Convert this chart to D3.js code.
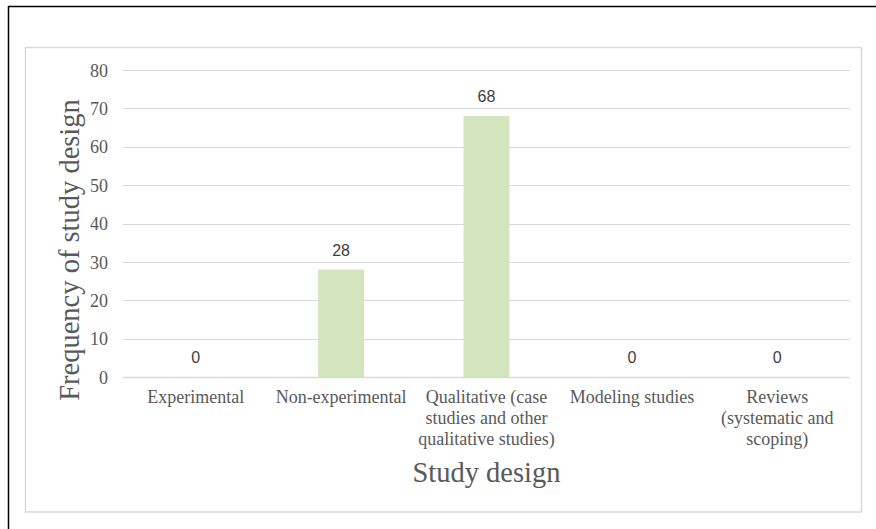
<!DOCTYPE html>
<html>
<head>
<meta charset="utf-8">
<script src="https://cdn.jsdelivr.net/npm/d3@7"></script>
<style>
  html, body { margin: 0; padding: 0; background: #fff; }
  svg { display: block; }
</style>
</head>
<body>
<svg id="chart" width="876" height="529"></svg>
<script>
const categories = [
  ["Experimental"],
  ["Non-experimental"],
  ["Qualitative (case", "studies and other", "qualitative studies)"],
  ["Modeling studies"],
  ["Reviews", "(systematic and", "scoping)"]
];
const values = [0, 28, 68, 0, 0];
const yTicks = [0, 10, 20, 30, 40, 50, 60, 70, 80];
const xTitle = "Study design";
const yTitle = "Frequency of study design";

(function () {
const svg = d3.select("#chart");
const serif = "'Liberation Serif', 'Times New Roman', serif";
const sans = "'Liberation Sans', Arial, sans-serif";

// outer black border (top & left)
svg.append("line").attr("x1", 8).attr("x2", 876).attr("y1", 6.5).attr("y2", 6.5)
  .attr("stroke", "#000").attr("stroke-width", 1.5);
svg.append("line").attr("x1", 8.5).attr("x2", 8.5).attr("y1", 6).attr("y2", 529)
  .attr("stroke", "#000").attr("stroke-width", 1.5);

// inner chart area border
svg.append("rect").attr("x", 25.5).attr("y", 47.5).attr("width", 836).attr("height", 464.5)
  .attr("fill", "none").attr("stroke", "#d9d9d9").attr("stroke-width", 1.5);

const pLeft = 123, pRight = 850, pTop = 70, pBottom = 377;

const x = d3.scaleBand()
  .domain(d3.range(categories.length))
  .range([pLeft, pRight])
  .paddingInner(0.684)
  .paddingOuter(0.342);

const y = d3.scaleLinear().domain([0, 80]).range([pBottom, pTop]);

// gridlines
svg.append("g").selectAll("line").data(yTicks).join("line")
  .attr("x1", pLeft).attr("x2", pRight)
  .attr("y1", d => Math.round(y(d)) + 0.5).attr("y2", d => Math.round(y(d)) + 0.5)
  .attr("stroke", "#d9d9d9").attr("stroke-width", d => d === 0 ? 1.5 : 1);

// y axis tick labels
const yAxis = d3.axisLeft(y).tickValues(yTicks).tickSize(0).tickPadding(0);
const yg = svg.append("g").attr("transform", `translate(108,0)`).call(yAxis);
yg.select(".domain").remove();
yg.selectAll("text")
  .attr("font-family", serif).attr("font-size", 18).attr("fill", "#595959")
  .attr("dy", "0.34em");

// bars
svg.append("g").selectAll("rect").data(values).join("rect")
  .attr("x", (d, i) => x(i))
  .attr("width", x.bandwidth())
  .attr("y", d => y(d))
  .attr("height", d => y(0) - y(d))
  .attr("fill", "#d4e4bd");

// data labels
svg.append("g").selectAll("text").data(values).join("text")
  .attr("x", (d, i) => x(i) + x.bandwidth() / 2)
  .attr("y", d => y(d) - 14)
  .attr("text-anchor", "middle")
  .attr("font-family", sans).attr("font-size", 16).attr("fill", "#404040")
  .text(d => d);

// x axis category labels
const xl = svg.append("g").selectAll("text").data(categories).join("text")
  .attr("text-anchor", "middle")
  .attr("font-family", serif).attr("font-size", 18).attr("fill", "#595959")
  .attr("transform", (d, i) => `translate(${x(i) + x.bandwidth() / 2},403)`);
xl.selectAll("tspan").data(d => d).join("tspan")
  .attr("x", 0).attr("y", (d, j) => j * 21)
  .text(d => d);

// axis titles
svg.append("text")
  .attr("x", (pLeft + pRight) / 2).attr("y", 482)
  .attr("text-anchor", "middle")
  .attr("font-family", serif).attr("font-size", 28.5).attr("fill", "#595959")
  .text(xTitle);

svg.append("text")
  .attr("transform", "translate(79,250) rotate(-90)")
  .attr("text-anchor", "middle")
  .attr("font-family", serif).attr("font-size", 28.5).attr("fill", "#595959")
  .text(yTitle);
})();
</script>
</body>
</html>
